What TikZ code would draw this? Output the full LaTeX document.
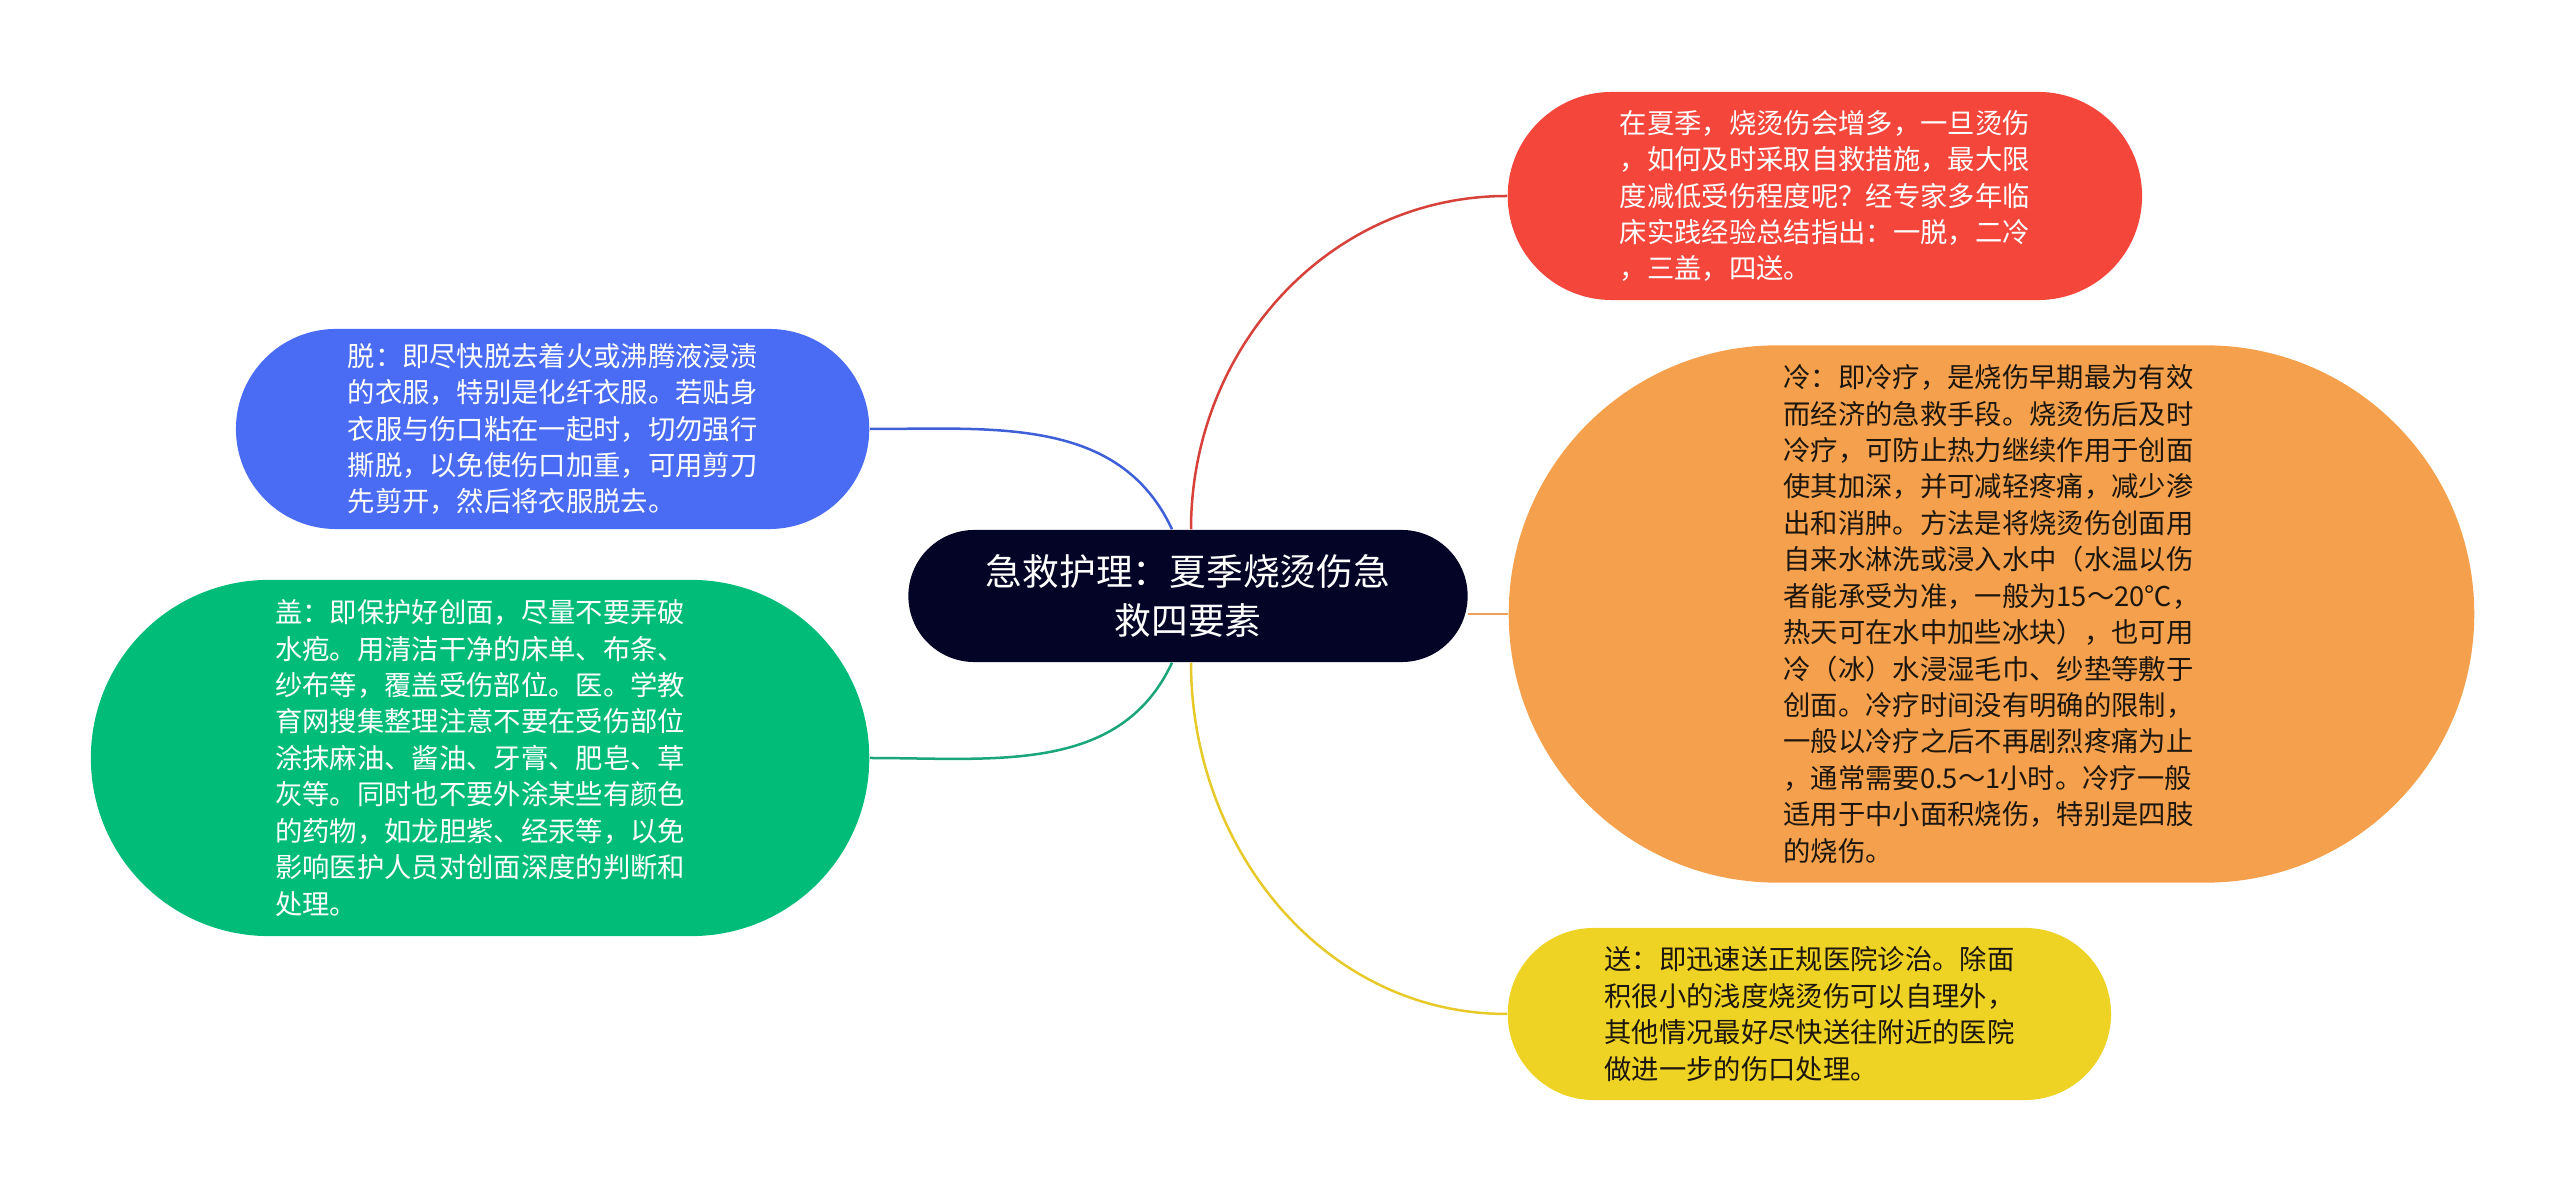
\documentclass[tikz,border=0pt]{standalone}
\usepackage{fontspec}
\setmainfont{Noto Sans CJK SC}
\usepackage{xcolor}
\usetikzlibrary{shapes.misc}

\definecolor{rootbg}{RGB}{3,4,38}
\definecolor{redbg}{RGB}{245,70,60}
\definecolor{redln}{RGB}{214,66,58}
\definecolor{orangebg}{RGB}{244,160,76}
\definecolor{orangeln}{RGB}{238,160,86}
\definecolor{yellowbg}{RGB}{238,211,37}
\definecolor{yellowln}{RGB}{232,201,42}
\definecolor{bluebg}{RGB}{74,108,244}
\definecolor{blueln}{RGB}{62,95,216}
\definecolor{greenbg}{RGB}{0,188,121}
\definecolor{greenln}{RGB}{26,165,122}
\definecolor{darktext}{RGB}{28,22,14}

\newcommand{\leaftext}{\fontsize{7.77pt}{10.36pt}\selectfont}
\newcommand{\roottext}{\fontsize{10.45pt}{13.9pt}\selectfont}

\begin{document}
\begin{tikzpicture}[
    x = 0.01cm,
    y = -0.01cm,
    pill/.style = {rounded rectangle, inner sep=0pt, align=left, font=\leaftext},
    link/.style = {line width=0.025cm}]
    \useasboundingbox (0,0) rectangle (2560,1192);
    % NODES
    % root
    \node[pill, fill=rootbg, text=white, align=center, font=\roottext,
          minimum width=5.59cm, minimum height=1.32cm] (root) at (1188,596)
          {急救护理：夏季烧烫伤急\\救四要素};
    % intro (red)
    \node[pill, fill=redbg, text=white, anchor=west,
          minimum width=6.34cm, minimum height=2.08cm] (intro) at (1507,196)
          {在夏季，烧烫伤会增多，一旦烫伤\\
           ，如何及时采取自救措施，最大限\\
           度减低受伤程度呢？经专家多年临\\
           床实践经验总结指出：一脱，二冷\\
           ，三盖，四送。};
    % cold (orange)
    \node[pill, fill=orangebg, text=darktext, anchor=west,
          minimum width=9.65cm, minimum height=5.37cm] (cold) at (1508,614)
          {冷：即冷疗，是烧伤早期最为有效\\
           而经济的急救手段。烧烫伤后及时\\
           冷疗，可防止热力继续作用于创面\\
           使其加深，并可减轻疼痛，减少渗\\
           出和消肿。方法是将烧烫伤创面用\\
           自来水淋洗或浸入水中（水温以伤\\
           者能承受为准，一般为15～20℃，\\
           热天可在水中加些冰块），也可用\\
           冷（冰）水浸湿毛巾、纱垫等敷于\\
           创面。冷疗时间没有明确的限制，\\
           一般以冷疗之后不再剧烈疼痛为止\\
           ，通常需要0.5～1小时。冷疗一般\\
           适用于中小面积烧伤，特别是四肢\\
           的烧伤。};
    % send (yellow)
    \node[pill, fill=yellowbg, text=darktext, anchor=west,
          minimum width=6.03cm, minimum height=1.72cm] (send) at (1507,1014)
          {送：即迅速送正规医院诊治。除面\\
           积很小的浅度烧烫伤可以自理外，\\
           其他情况最好尽快送往附近的医院\\
           做进一步的伤口处理。};
    % strip (blue)
    \node[pill, fill=bluebg, text=white, anchor=east,
          minimum width=6.33cm, minimum height=2.00cm] (strip) at (870,429)
          {脱：即尽快脱去着火或沸腾液浸渍\\
           的衣服，特别是化纤衣服。若贴身\\
           衣服与伤口粘在一起时，切勿强行\\
           撕脱，以免使伤口加重，可用剪刀\\
           先剪开，然后将衣服脱去。};
    % cover (green)
    \node[pill, fill=greenbg, text=white, anchor=east,
          minimum width=7.78cm, minimum height=3.56cm] (cover) at (870,758)
          {盖：即保护好创面，尽量不要弄破\\
           水疱。用清洁干净的床单、布条、\\
           纱布等，覆盖受伤部位。医。学教\\
           育网搜集整理注意不要在受伤部位\\
           涂抹麻油、酱油、牙膏、肥皂、草\\
           灰等。同时也不要外涂某些有颜色\\
           的药物，如龙胆紫、经汞等，以免\\
           影响医护人员对创面深度的判断和\\
           处理。};

    % LINKS
    \draw[link, draw=redln] ([xshift=0.03cm]root.north) to[out=90, in=180] (intro.west);
    \draw[link, draw=orangeln] (root.east |- cold.west) -- (cold.west);
    \draw[link, draw=yellowln] ([xshift=0.03cm]root.south) to[out=-90, in=180] (send.west);
    \draw[link, draw=blueln] ([xshift=-0.16cm]root.north) to[out=115, in=0] (strip.east);
    \draw[link, draw=greenln] ([xshift=-0.16cm]root.south) to[out=-115, in=0] (cover.east);
\end{tikzpicture}
\end{document}
